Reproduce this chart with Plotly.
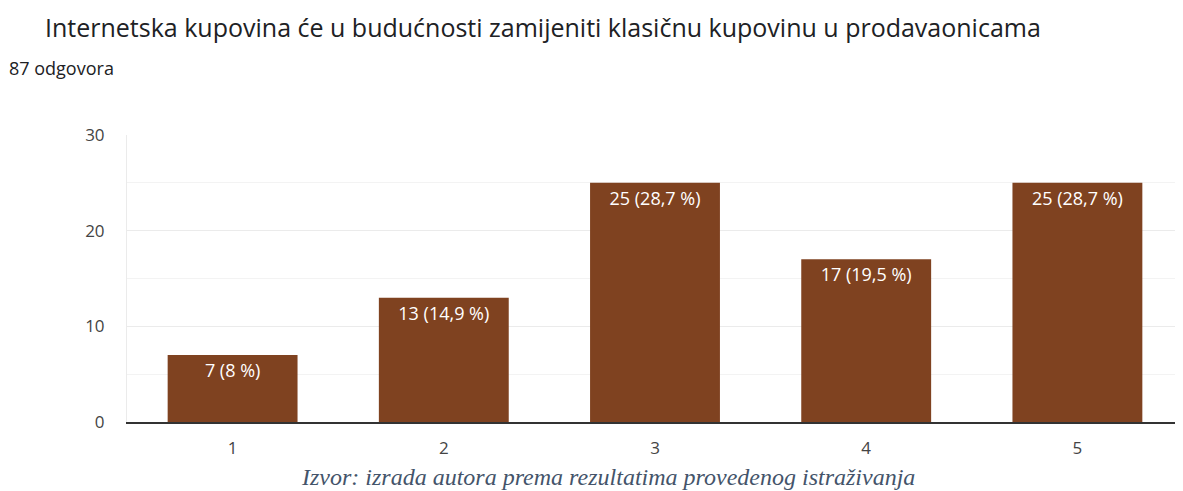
import plotly.graph_objects as go

categories = ["1", "2", "3", "4", "5"]
counts = [7, 13, 25, 17, 25]
total = 87
y_ticks = [0, 10, 20, 30]

def pct(v):
    p = round(v / total * 100, 1)
    s = ("%.1f" % p).rstrip("0").rstrip(".").replace(".", ",")
    return f"{v} ({s} %)"

labels = [pct(v) for v in counts]

# page has an 8px body margin; work in page coordinates and convert
OFF = 8
W, H = 1175, 483
PL, PR, PT, PB = 127, 1183, 135, 422  # plot area in page px
L, R, T, B = PL - OFF, (W + OFF) - PR, PT - OFF, (H + OFF) - PB
PW, PH = PR - PL, PB - PT

def px(x):
    return (x - PL) / PW

def py(y):
    return (PB - y) / PH

SANS = "Open Sans, Roboto, Arial, sans-serif"

fig = go.Figure(go.Bar(
    x=categories, y=counts, text=labels,
    textposition="inside", insidetextanchor="end",
    textangle=0, constraintext="none",
    textfont=dict(family=SANS, size=18, color="white"),
    marker=dict(color="#7f4220", line=dict(width=0)),
    width=0.615, cliponaxis=False,
))

fig.update_layout(
    width=W, height=H,
    margin=dict(l=L, r=R, t=T, b=B, pad=0),
    paper_bgcolor="white", plot_bgcolor="white",
    showlegend=False,
    font=dict(family=SANS),
    xaxis=dict(showgrid=False, showline=True, linecolor="#333333", linewidth=1.5,
               ticks="", tickfont=dict(size=17, color="#444444"), ticklabelstandoff=10),
    yaxis=dict(range=[0, 30], tickvals=y_ticks, showgrid=True, gridcolor="#ebebeb",
               zeroline=False, showline=True, linecolor="#ebebeb", linewidth=1,
               tickfont=dict(size=17, color="#444444"), ticks="", ticklabelstandoff=18,
               minor=dict(dtick=5, showgrid=True, gridcolor="#f3f3f3")),
)

fig.add_annotation(text="Internetska kupovina će u budućnosti zamijeniti klasičnu kupovinu u prodavaonicama",
                   xref="paper", yref="paper", x=px(44), y=py(8.5),
                   xanchor="left", yanchor="top", showarrow=False, borderpad=0,
                   font=dict(family=SANS, size=25, color="#202124"))
fig.add_annotation(text="87 odgovora",
                   xref="paper", yref="paper", x=px(7), y=py(68),
                   xanchor="left", yanchor="middle", showarrow=False,
                   font=dict(family=SANS, size=18, color="#202124"))
fig.add_annotation(text="<i>Izvor: izrada autora prema rezultatima provedenog istraživanja</i>",
                   xref="paper", yref="paper", x=px(608), y=py(477),
                   xanchor="center", yanchor="middle", showarrow=False,
                   font=dict(family="Liberation Serif, Times New Roman, serif", size=24, color="#44546a"))

fig.write_html("out.html")
